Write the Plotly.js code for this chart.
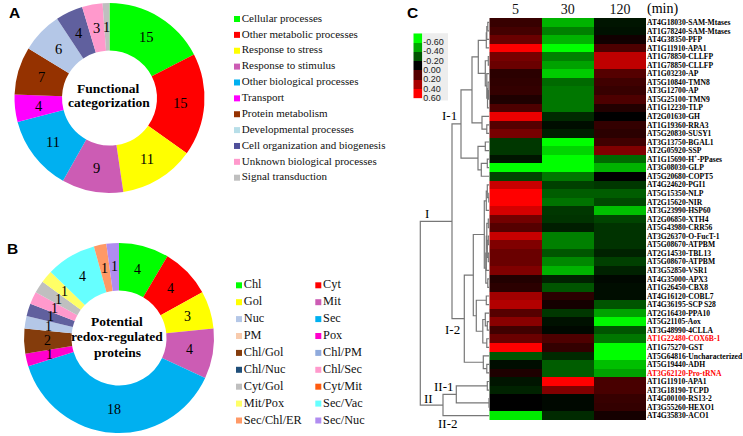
<!DOCTYPE html>
<html><head><meta charset="utf-8">
<script src="https://cdn.plot.ly/plotly-3.0.1.min.js"></script>
<style>html,body{margin:0;padding:0;background:#fff}#c{width:743px;height:436px}</style>
</head><body><div id="c"></div>
<script>
const W=743,H=436;
const fx=p=>p/W, fy=p=>1-p/H;
const SERIF='"Liberation Serif","Times New Roman",serif', SANS='"Liberation Sans",Arial,sans-serif';

// Panel A
const catsA=['Cellular processes','Other metabolic processes','Response to stress','Response to stimulus','Other biological processes','Transport','Protein metabolism','Developmental processes','Cell organization and biogenesis','Unknown biological processes','Signal transduction'];
const valsA=[15,15,11,9,11,4,7,6,4,3,1];
const sliceColsA=['#00FF00','#FF0000','#FFFF00','#CC5CB4','#00B0F0','#FF00FF','#953200','#B4C7E7','#60609E','#FF99CC','#BFBFBF'];
const legendColsA=['#00FF00','#FF0000','#FFFF00','#CC5CB4','#00B0F0','#FF00FF','#953200','#B7DEE8','#4F4F9A','#FF99CC','#BFBFBF'];

// Panel B
const catsB=['Chl','Cyt','Gol','Mit','Sec','Pox','Chl/Gol','Nuc','Chl/Nuc','Chl/Sec','Cyt/Gol','Mit/Pox','Sec/Vac','Sec/Chl/ER','Sec/Nuc'];
const valsB=[4,4,3,4,18,1,2,1,1,1,1,1,4,1,1];
const sliceColsB=['#00FF00','#FF0000','#FFFF00','#CC5CB4','#00B0F0','#FF00CC','#843C0C','#B4C7E7','#60609E','#FF99CC','#BFBFBF','#FFFF66','#66FFFF','#FF9966','#B08CF0'];
const legendCatsB=['Chl','Cyt','Gol','Mit','Nuc','Sec','PM','Pox','Chl/Gol','Chl/PM','Chl/Nuc','Chl/Sec','Cyt/Gol','Cyt/Mit','Mit/Pox','Sec/Vac','Sec/Chl/ER','Sec/Nuc'];
const legendColsB=['#00FF00','#FF0000','#FFFF00','#CC5CB4','#B4C7E7','#00B0F0','#F8CBAD','#FF00CC','#843C0C','#8FAADC','#1F4E79','#FF99CC','#BFBFBF','#FF5B0F','#FFFF66','#66FFFF','#FF9966','#B08CF0'];

// Panel C
const times=['5','30','120'];
const genes=['AT4G18030-SAM-Mtases','AT1G78240-SAM-Mtases','AT4G38350-PFP','AT1G11910-APA1','AT1G78850-CLLFP','AT1G78850-CLLFP','AT1G03230-AP','AT5G10840-TMN8','AT3G12700-AP','AT5G25100-TMN9','AT1G12230-TLP','AT2G01630-GH','AT1G19360-RRA3','AT5G20830-SUSY1','AT3G13750-BGAL1','AT2G05920-SSP','AT1G15690-H<sup>+</sup>-PPases','AT3G08030-GLP','AT5G20680-COPT5','AT4G24620-PGI1','AT5G15350-NLP','AT2G15620-NIR','AT3G23990-HSP60','AT2G06850-XTH4','AT5G43980-CRR56','AT3G26370-O-FucT-1','AT5G08670-ATPBM','AT2G14530-TBL13','AT5G08670-ATPBM','AT3G52850-VSR1','AT4G35000-APX3','AT1G26450-CBX8','AT4G16120-COBL7','AT4G36195-SCP S28','AT2G16430-PPA10','AT5G21105-Aox','AT3G48990-4CLLA','AT1G22480-COX6B-1','AT1G75270-GST','AT5G64816-Uncharacterized','AT5G19440-ADH','AT3G62120-Pro-tRNA','AT1G11910-APA1','AT3G18190-TCPD','AT4G00100-RS13-2','AT3G55260-HEXO1','AT4G35830-ACO1'];
const redGenes=['AT1G22480-COX6B-1','AT3G62120-Pro-tRNA'];
const min5=[.13,.16,.25,.6,.28,.25,.1,.11,.12,.07,.18,.55,.2,.28,-.13,-.13,-.05,-.6,-.16,.47,.6,.6,.5,.27,.2,.47,.3,.25,.25,.3,.08,.1,.38,.42,.2,.32,.15,.25,.6,-.2,-.03,.07,-.05,-.08,0,0,-.55];
const min30=[-.42,-.3,-.42,-.6,-.3,-.38,-.48,-.25,-.28,-.28,-.28,-.1,-.03,-.07,-.6,-.5,-.6,-.6,-.28,-.15,-.22,-.27,-.13,-.12,-.07,-.3,-.3,-.2,-.32,-.42,-.08,-.2,.1,.05,-.13,-.04,-.02,.18,.12,-.1,-.22,-.22,.6,.3,-.02,-.02,-.1];
const min120=[-.05,-.04,.04,.18,.45,.45,.2,.15,.13,.18,.08,0,.12,.1,.15,.3,-.25,-.42,0,-.13,-.22,-.17,-.45,-.16,-.12,-.12,-.12,-.08,-.15,-.08,-.02,-.03,-.03,-.2,-.38,-.58,-.2,-.28,-.6,-.6,-.45,-.38,.17,.17,.13,.12,.05];
const heatScale=[[0,'#00FF00'],[.5,'#000000'],[1,'#FF0000']];

// Colour key
const keyVals=[-.6,-.4,-.2,0,.2,.4,.6];
const keyLabels=['-0.60','-0.40','-0.20','0.00','0.20','0.40','0.60'];

// Dendrogram merges: [a, b, distance]; positive = row number, negative = earlier merge number
const merges=[[1,2,1.5],[-1,3,2.5],[-2,4,3],[5,6,1],[9,10,.8],[8,-5,1.2],[11,-6,1.8],[7,-7,2.5],[-4,-8,4],[-3,-9,11],
[13,14,2.5],[12,-11,7.3],[-10,-12,17.3],[15,16,4],[17,18,2],[-15,19,8],[-14,-16,11.3],[-13,-17,28.3],
[21,22,.5],[20,-19,2],[-20,23,3],[24,25,1],[26,27,1],[28,29,1],[-23,-24,2],[-22,-25,2.5],[-26,30,3],[31,32,1.5],[-27,-28,3.5],[-21,-29,5],
[33,34,3],[36,37,2],[35,-32,4],[38,39,2.5],[-33,-34,6.5],[-31,-35,13],[-30,-36,16],[41,42,2.5],[40,-38,6],[-37,-39,25],[-18,-40,37.3],
[43,44,2],[45,46,.3],[-42,-43,33],[-44,47,46.3],[-41,-45,69]];

// Build dendrogram path from merges
const dx=[],dy=[],nodeY=[];
const pos=r=>r>0?{y:r,h:0}:nodeY[-r-1];
merges.forEach(([a,b,h])=>{
  const A=pos(a),B=pos(b);
  dx.push(A.h,h,h,B.h,null); dy.push(A.y,A.y,B.y,B.y,null);
  nodeY.push({y:(A.y+B.y)/2,h});
});

const rowIdx=genes.map((_,i)=>i+1);
const tickText=genes.map(g=>redGenes.includes(g)?`<span style="color:#FF0000">${g}</span>`:g);
const pieBase={type:'pie',hole:.5,sort:false,direction:'clockwise',rotation:0,textinfo:'none',hoverinfo:'skip',showlegend:false};
const pieDom=(cx,cy,r)=>({x:[fx(cx-r),fx(cx+r)],y:[fy(cy+r),fy(cy-r)]});

const data=[
 {...pieBase,labels:catsA,values:valsA,marker:{colors:sliceColsA,line:{width:0}},domain:pieDom(109.5,98,95)},
 {...pieBase,labels:catsB,values:valsB,marker:{colors:sliceColsB,line:{width:0}},domain:pieDom(119,338,95)},
 {type:'heatmap',x:times,y:rowIdx,z:genes.map((_,i)=>[min5[i],min30[i],min120[i]]),zmin:-.6,zmax:.6,colorscale:heatScale,showscale:false,hoverinfo:'skip',xaxis:'x',yaxis:'y'},
 {type:'scatter',mode:'lines',x:dx,y:dy,line:{color:'#777',width:1.2},hoverinfo:'skip',showlegend:false,xaxis:'x2',yaxis:'y2',cliponaxis:false},
 {type:'heatmap',x:['key'],y:keyVals.map((_,i)=>i+.5),z:keyVals.map(v=>[v]),zmin:-.6,zmax:.6,colorscale:heatScale,showscale:false,hoverinfo:'skip',xaxis:'x3',yaxis:'y3'},
 {type:'scatter',mode:'markers+text',x:catsA.map(()=>0),y:catsA.map((_,i)=>i),text:catsA,textposition:'middle right',textfont:{family:SERIF,size:11,color:'#111'},marker:{symbol:'square',size:6,color:legendColsA},hoverinfo:'skip',showlegend:false,xaxis:'x4',yaxis:'y4',cliponaxis:false},
 {type:'scatter',mode:'markers+text',x:legendCatsB.map((_,i)=>i%2),y:legendCatsB.map((_,i)=>Math.floor(i/2)),text:legendCatsB,textposition:'middle right',textfont:{family:SERIF,size:12.3,color:'#111'},marker:{symbol:'square',size:6,color:legendColsB},hoverinfo:'skip',showlegend:false,xaxis:'x5',yaxis:'y5',cliponaxis:false}
];

const hidden={visible:false,fixedrange:true};
const rowTop=18,rowBot=420;
const ann=(x,y,text,size,family,extra={})=>({xref:'paper',yref:'paper',x:fx(x),y:fy(y),text,showarrow:false,xanchor:'center',yanchor:'middle',font:{family,size,color:'#000'},...extra});
// Value labels at the middle of each ring segment, placed from the slice values
const ringLabels=(vals,cx,cy,r,size)=>{
  const tot=vals.reduce((a,b)=>a+b,0);let c=0;
  return vals.map(v=>{
    const t=(c+v/2)/tot*2*Math.PI;c+=v;
    return ann(cx+.75*r*Math.sin(t),cy-.75*r*Math.cos(t),String(v),size,SERIF);
  });
};
const layout={
 width:W,height:H,margin:{l:0,r:0,t:0,b:0},paper_bgcolor:'#fff',plot_bgcolor:'rgba(0,0,0,0)',
 xaxis:{domain:[fx(489.3),fx(646)],type:'category',side:'top',anchor:'y',ticks:'',ticklen:0,showline:false,showgrid:false,zeroline:false,tickfont:{family:SERIF,size:14,color:'#111'},fixedrange:true,automargin:false},
 yaxis:{domain:[fy(rowBot),fy(rowTop)],range:[47.5,.5],side:'right',anchor:'x',tickmode:'array',tickvals:rowIdx,ticktext:tickText,ticks:'',showline:false,showgrid:false,zeroline:false,tickfont:{family:SERIF,size:7.6,color:'#000',weight:'bold'},fixedrange:true,automargin:false},
 xaxis2:{...hidden,domain:[fx(415),fx(489.3)],range:[74.3,0],anchor:'y2'},
 yaxis2:{...hidden,domain:[fy(rowBot),fy(rowTop)],range:[47.5,.5],anchor:'x2'},
 xaxis3:{...hidden,domain:[fx(413.3),fx(422.3)],anchor:'y3',type:'category'},
 yaxis3:{domain:[fy(98.5),fy(33.3)],range:[7,0],side:'right',anchor:'x3',tickmode:'array',tickvals:keyVals.map((_,i)=>i+.92),ticktext:keyLabels,ticks:'',showline:false,showgrid:false,zeroline:false,tickfont:{family:SANS,size:9,color:'#222'},fixedrange:true,automargin:false},
 xaxis4:{...hidden,domain:[fx(237),fx(300)],range:[0,1],anchor:'y4'},
 yaxis4:{...hidden,domain:[fy(19+10.5*15.87),fy(19-.5*15.87)],range:[10.5,-.5],anchor:'x4'},
 xaxis5:{...hidden,domain:[fx(239),fx(318.3)],range:[0,1],anchor:'y5'},
 yaxis5:{...hidden,domain:[fy(285.3+8.5*16.9),fy(285.3-.5*16.9)],range:[8.5,-.5],anchor:'x5'},
 shapes:[{type:'rect',xref:'paper',yref:'paper',x0:fx(422.3),x1:fx(448),y0:fy(100.5),y1:fy(33.3),fillcolor:'#EDEDED',line:{width:0},layer:'below'}],
 annotations:[
  ...ringLabels(valsA,109.5,98,95,14.5),...ringLabels(valsB,119,338,95,14),
  ann(14,12.5,'<b>A</b>',15.5,SANS),ann(13,249,'<b>B</b>',15.5,SANS),ann(412,12.5,'<b>C</b>',15.5,SANS),
  ann(108.7,88,'<b>Functional</b>',13.5,SERIF),ann(108.7,103,'<b>categorization</b>',13.5,SERIF),
  ann(117,321.5,'<b>Potential</b>',13.5,SERIF),ann(117,336.8,'<b>redox-regulated</b>',13.5,SERIF),ann(117,352,'<b>proteins</b>',13.5,SERIF),
  ann(662,9,'(min)',14,SERIF),
  ann(449.5,115,'I-1',13,SERIF),ann(427,213,'I',13,SERIF),ann(452.7,329,'I-2',13,SERIF),
  ann(428,398,'II',13,SERIF),ann(444,386,'II-1',13,SERIF),ann(448,423.5,'II-2',13,SERIF)
 ]
};
Plotly.newPlot('c',data,layout,{staticPlot:true,displayModeBar:false});
</script></body></html>
